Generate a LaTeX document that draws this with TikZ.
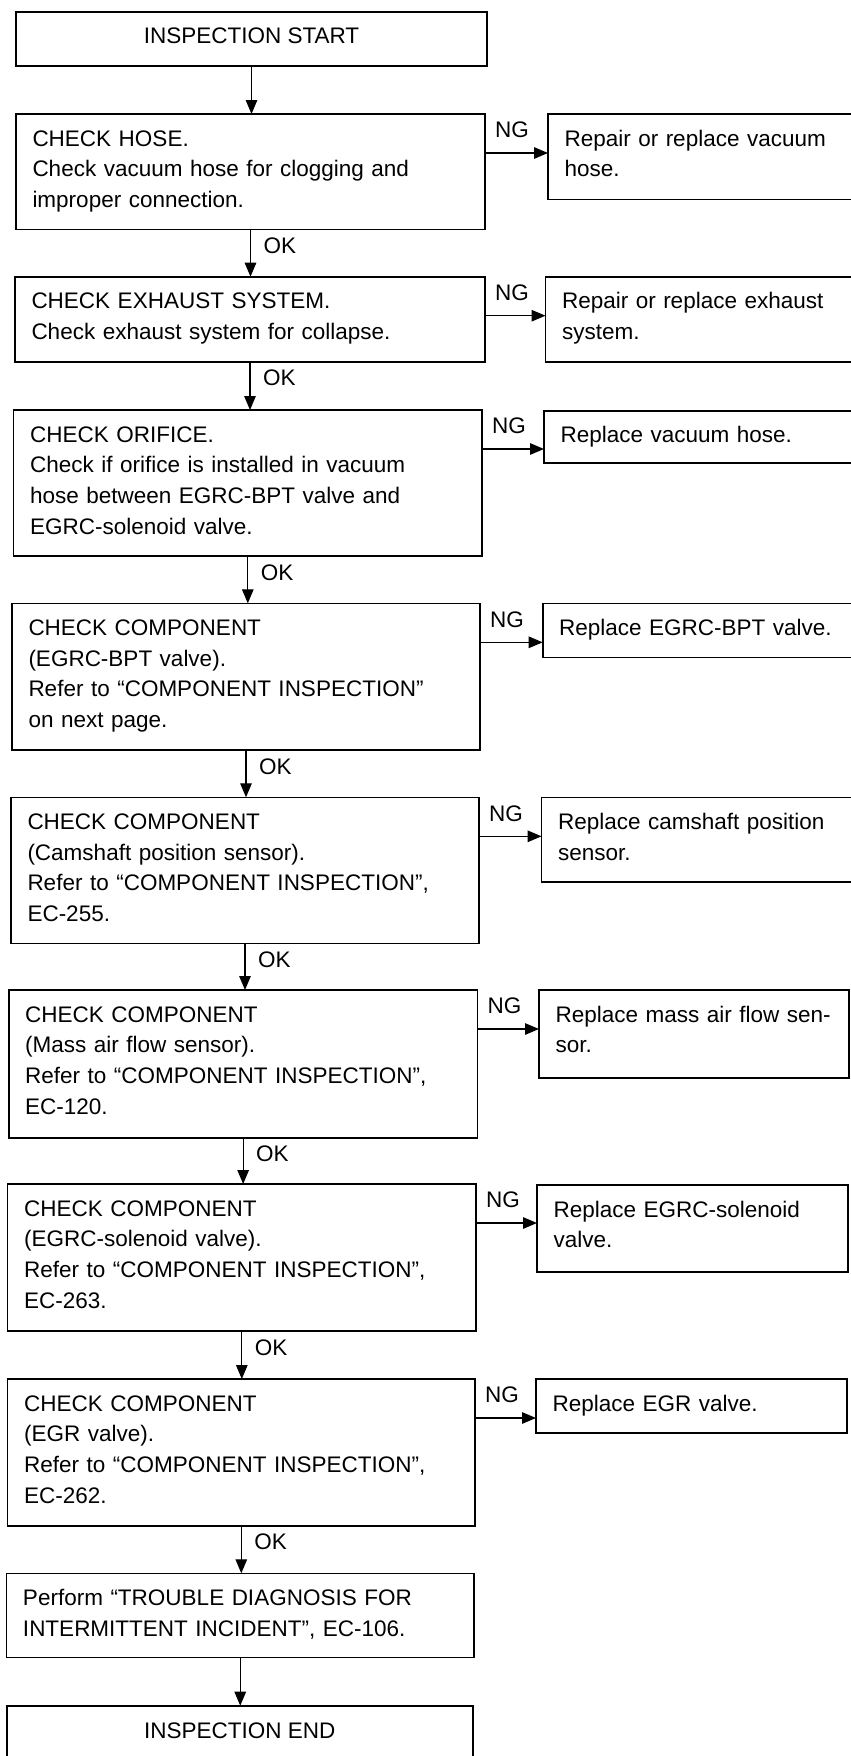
\documentclass[tikz,border=0pt]{standalone}
\usepackage{fontspec}
\setmainfont{Liberation Sans}
\usetikzlibrary{arrows.meta,calc}
\tikzset{
  box/.style={draw=black, line width=1.6pt, inner sep=0pt, outer sep=0pt, fill=none},
  txt/.style={inner sep=0pt, outer sep=0pt, align=left, text width=450pt,
    font=\fontsize{22.5}{30.8}\selectfont},
  ctxt/.style={inner sep=0pt, outer sep=0pt, font=\fontsize{22.5}{30.8}\selectfont},
  lbl/.style={inner sep=0pt, outer sep=0pt, font=\fontsize{22.5}{27}\selectfont},
  arr/.style={line width=1.3pt, -{Triangle[length=14pt,width=11.5pt]}}
}
\newcommand\fbx[5]{%
  \node[box, minimum width={#4-#2}, minimum height={#5-#3}] (#1) at ({(#2+#4)/2},{(#3+#5)/2}) {};}
\newcommand\btext[2]{%
  \node[txt, anchor=base west] (#1t) at ([xshift=16.5pt,yshift=-32pt]#1.north west) {#2};}
\newcommand\ngarrow[2]{%
  \draw[arr] ([yshift=-39pt]#1.north east) -- ([yshift=-39pt]#1.north east -| #2.west);
  \node[lbl] (#1ng) at ([xshift=27pt,yshift=-16pt]#1.north east) {NG};}
\newcommand\okarrow[2]{%
  \draw[arr] (#1.south) -- (#1.south |- #2.north);
  \node[lbl, anchor=west] (#1ok) at ([xshift=13pt,yshift=-16.5pt]#1.south) {OK};}
\begin{document}
\begin{tikzpicture}[x=1pt,y=-1pt]
\useasboundingbox (0,0) rectangle (851,1756);
\clip (0,0) rectangle (851,1756);
\fill[white] (0,0) rectangle (851,1756);
% main column
\fbx{st}{16}{12}{487}{66}
\fbx{b1}{16}{114}{485}{229.5}
\fbx{b2}{15}{276.7}{485}{361.7}
\fbx{b3}{13.6}{410}{482}{556}
\fbx{b4}{12}{603.3}{480}{750}
\fbx{b5}{11}{797.3}{479}{943.3}
\fbx{b6}{8.7}{990}{477.6}{1137.7}
\fbx{b7}{7.6}{1184}{476}{1331}
\fbx{b8}{7.6}{1379}{475}{1525.7}
\fbx{b9}{6.5}{1573.3}{474}{1657.5}
\fbx{en}{6.7}{1705.7}{472.7}{1790}
% right column
\fbx{r1}{548}{114}{870}{199.3}
\fbx{r2}{545.5}{276.7}{870}{361.7}
\fbx{r3}{544}{410.7}{870}{463}
\fbx{r4}{542.7}{603.3}{870}{657.3}
\fbx{r5}{541.6}{797.3}{870}{881.7}
\fbx{r6}{539}{990}{849}{1077.7}
\fbx{r7}{537}{1185}{848}{1272}
\fbx{r8}{536}{1379}{847}{1433}
% texts
\node[ctxt, anchor=base] (stt) at ([yshift=-4pt]st.center) {INSPECTION START};
\btext{b1}{CHECK HOSE.\\Check vacuum hose for clogging and\\improper connection.}
\btext{b2}{CHECK EXHAUST SYSTEM.\\Check exhaust system for collapse.}
\btext{b3}{CHECK ORIFICE.\\Check if orifice is installed in vacuum\\hose between EGRC-BPT valve and\\EGRC-solenoid valve.}
\btext{b4}{CHECK COMPONENT\\(EGRC-BPT valve).\\Refer to “COMPONENT INSPECTION”\\on next page.}
\btext{b5}{CHECK COMPONENT\\(Camshaft position sensor).\\Refer to “COMPONENT INSPECTION”,\\EC-255.}
\btext{b6}{CHECK COMPONENT\\(Mass air flow sensor).\\Refer to “COMPONENT INSPECTION”,\\EC-120.}
\btext{b7}{CHECK COMPONENT\\(EGRC-solenoid valve).\\Refer to “COMPONENT INSPECTION”,\\EC-263.}
\btext{b8}{CHECK COMPONENT\\(EGR valve).\\Refer to “COMPONENT INSPECTION”,\\EC-262.}
\btext{b9}{Perform “TROUBLE DIAGNOSIS FOR\\INTERMITTENT INCIDENT”, EC-106.}
\node[ctxt, anchor=base] (ent) at ([yshift=-33pt]en.north) {INSPECTION END};
\btext{r1}{Repair or replace vacuum\\hose.}
\btext{r2}{Repair or replace exhaust\\system.}
\btext{r3}{Replace vacuum hose.}
\btext{r4}{Replace EGRC-BPT valve.}
\btext{r5}{Replace camshaft position\\sensor.}
\btext{r6}{Replace mass air flow sen-\\sor.}
\btext{r7}{Replace EGRC-solenoid\\valve.}
\btext{r8}{Replace EGR valve.}
% connectors
\draw[arr] (st.south) -- (st.south |- b1.north);
\okarrow{b1}{b2}
\okarrow{b2}{b3}
\okarrow{b3}{b4}
\okarrow{b4}{b5}
\okarrow{b5}{b6}
\okarrow{b6}{b7}
\okarrow{b7}{b8}
\okarrow{b8}{b9}
\draw[arr] (b9.south) -- (b9.south |- en.north);
\ngarrow{b1}{r1}
\ngarrow{b2}{r2}
\ngarrow{b3}{r3}
\ngarrow{b4}{r4}
\ngarrow{b5}{r5}
\ngarrow{b6}{r6}
\ngarrow{b7}{r7}
\ngarrow{b8}{r8}
\end{tikzpicture}
\end{document}
